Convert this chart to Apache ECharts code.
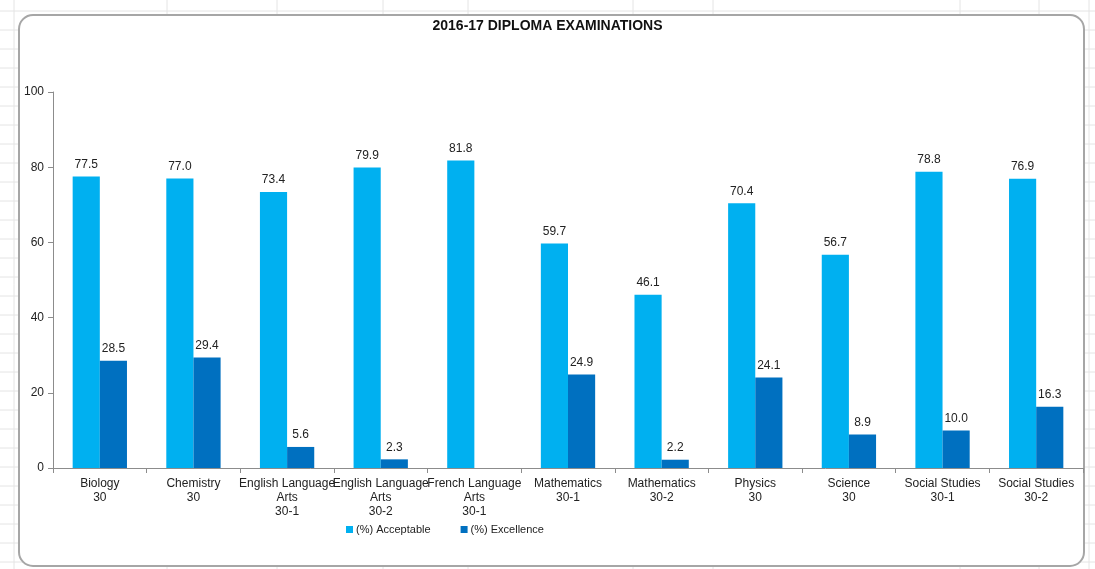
<!DOCTYPE html>
<html>
<head>
<meta charset="utf-8">
<script src="https://cdn.jsdelivr.net/npm/echarts@6/dist/echarts.min.js"></script>
<style>
  html, body { margin: 0; padding: 0; background: #fff; }
  #main { width: 1095px; height: 569px; }
</style>
</head>
<body>
<div id="main"></div>
<script>
// subjects along the x axis
var categories = [
  'Biology\n30', 'Chemistry\n30', 'English Language\nArts\n30-1', 'English Language\nArts\n30-2',
  'French Language\nArts\n30-1', 'Mathematics\n30-1', 'Mathematics\n30-2', 'Physics\n30',
  'Science\n30', 'Social Studies\n30-1', 'Social Studies\n30-2'
];
var acceptable = [77.5, 77.0, 73.4, 79.9, 81.8, 59.7, 46.1, 70.4, 56.7, 78.8, 76.9];
var excellence = [28.5, 29.4, 5.6, 2.3, null, 24.9, 2.2, 24.1, 8.9, 10.0, 16.3];
var yTicks = [0, 20, 40, 60, 80, 100];

var W = 1095, H = 569;

// spreadsheet-like backdrop behind the chart frame
var backdrop = [];
for (var y = 11; y < H; y += 19) {
  backdrop.push({ type: 'line', silent: true, z: -10,
    shape: { x1: 0, y1: y, x2: W, y2: y }, style: { stroke: '#e4e4e4', lineWidth: 1 } });
}
[14, 167, 277, 383, 468, 633, 713, 960, 1039, 1089].forEach(function (x) {
  backdrop.push({ type: 'line', silent: true, z: -10,
    shape: { x1: x, y1: 0, x2: x, y2: H }, style: { stroke: '#e4e4e4', lineWidth: 1 } });
});
backdrop.push({ type: 'rect', silent: true, z: -5,
  shape: { x: 19, y: 15, width: 1065, height: 551, r: 14 },
  style: { fill: '#ffffff', stroke: '#a6a6a6', lineWidth: 2 } });

var chart = echarts.init(document.getElementById('main'), null, { renderer: 'canvas' });

var labelStyle = {
  show: true, position: 'top', distance: 6,
  color: '#222', fontSize: 12, fontFamily: 'Liberation Sans, Arial, sans-serif',
  formatter: function (p) { return p.value == null ? '' : Number(p.value).toFixed(1); }
};

chart.setOption({
  animation: false,
  backgroundColor: '#fff',
  textStyle: { fontFamily: 'Liberation Sans, Arial, sans-serif' },
  graphic: backdrop,
  title: {
    text: '2016-17 DIPLOMA EXAMINATIONS',
    left: 'center', top: 14,
    textStyle: { fontSize: 14, fontWeight: 'bold', color: '#111', fontFamily: 'Liberation Sans, Arial, sans-serif' }
  },
  legend: {
    left: 341, top: 519,
    itemWidth: 7, itemHeight: 7, itemGap: 30,
    icon: 'rect',
    textStyle: { fontSize: 11, color: '#222', padding: [0, 0, 0, -2] },
    data: ['(%) Acceptable', '(%) Excellence']
  },
  grid: { left: 53, right: 12, top: 92, bottom: 101, containLabel: false },
  xAxis: {
    type: 'category',
    data: categories,
    axisLine: { lineStyle: { color: '#8c8c8c', width: 1 } },
    axisTick: { show: true, length: 5, lineStyle: { color: '#8c8c8c' } },
    axisLabel: { interval: 0, color: '#222', fontSize: 12, lineHeight: 14, margin: 9 }
  },
  yAxis: {
    type: 'value',
    min: yTicks[0], max: yTicks[yTicks.length - 1], interval: 20,
    axisLine: { show: true, lineStyle: { color: '#8c8c8c', width: 1 } },
    axisTick: { show: true, length: 5, lineStyle: { color: '#8c8c8c' } },
    axisLabel: { color: '#222', fontSize: 12, margin: 9 },
    splitLine: { show: false }
  },
  series: [
    {
      name: '(%) Acceptable', type: 'bar', data: acceptable,
      itemStyle: { color: '#00b0f0' },
      barGap: '0%', barCategoryGap: '42%',
      label: labelStyle
    },
    {
      name: '(%) Excellence', type: 'bar', data: excellence,
      itemStyle: { color: '#0070c0' },
      label: labelStyle
    }
  ]
});
</script>
</body>
</html>
